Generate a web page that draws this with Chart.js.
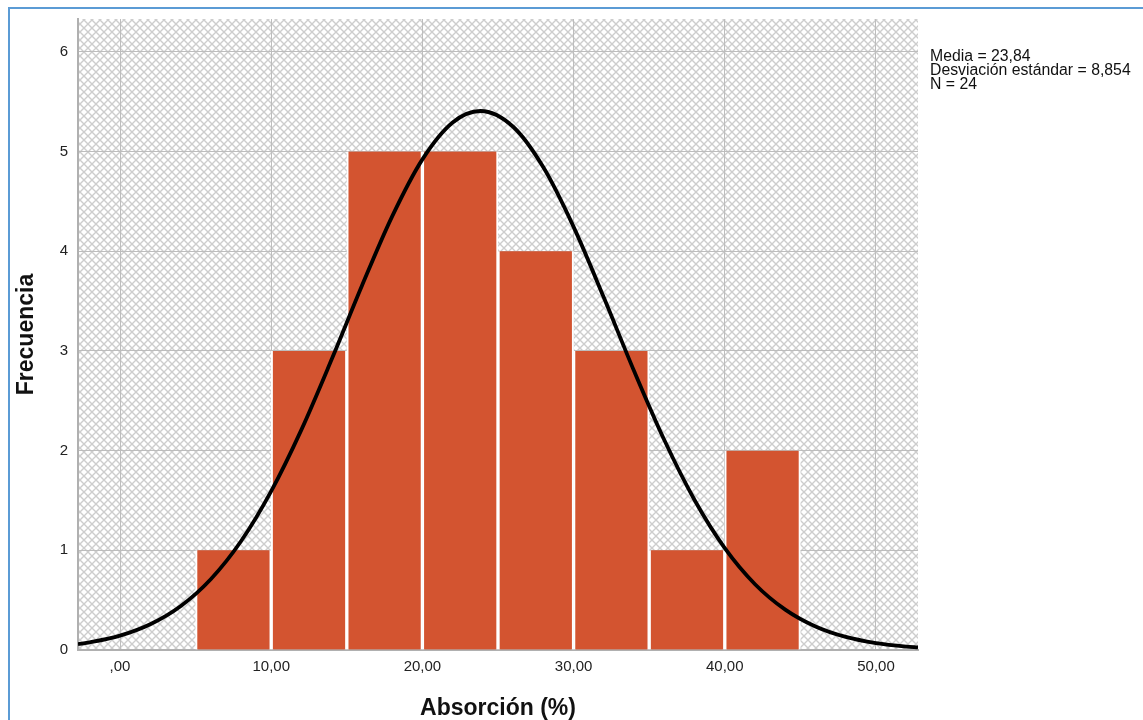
<!DOCTYPE html>
<html>
<head>
<meta charset="utf-8">
<script src="https://cdn.jsdelivr.net/npm/chart.js@4.4.1/dist/chart.umd.min.js"></script>
<style>
  html, body { margin: 0; padding: 0; background: #ffffff; overflow: hidden; }
  #frame { position: absolute; left: 8px; top: 7px; width: 1200px; height: 800px;
           border-left: 2px solid #5b9bd5; border-top: 2px solid #5b9bd5; }
  #c { position: absolute; left: 0; top: 0; }
</style>
</head>
<body>
<div id="frame"></div>
<canvas id="c" width="1143" height="720"></canvas>
<script>
// ---- data ----
const binCenters = [7.5, 12.5, 17.5, 22.5, 27.5, 32.5, 37.5, 42.5];
const frequencies = [1, 3, 5, 5, 4, 3, 1, 2];

const curveX = [-2.78, -2, 0, 2, 4, 6, 8, 10, 12, 14, 16, 18, 20, 22, 23.84, 26, 28, 30, 32, 34, 36, 38, 40, 42, 44, 46, 48, 50, 52, 52.78];
const curveY = [0.059, 0.077, 0.144, 0.258, 0.439, 0.710, 1.091, 1.594, 2.211, 2.916, 3.654, 4.350, 4.922, 5.292, 5.407, 5.249, 4.842, 4.245, 3.536, 2.799, 2.106, 1.505, 1.022, 0.660, 0.405, 0.236, 0.131, 0.069, 0.034, 0.026];

const xTickValues = [0, 10, 20, 30, 40, 50];
const xTickLabels = [',00', '10,00', '20,00', '30,00', '40,00', '50,00'];
const yTickValues = [0, 1, 2, 3, 4, 5, 6];
const yTickLabels = ['0', '1', '2', '3', '4', '5', '6'];

const xTitle = 'Absorción (%)';
const yTitle = 'Frecuencia';
const statsLines = ['Media = 23,84', 'Desviación estándar = 8,854', 'N = 24'];

// ---- rendering ----
const FONT = "'Liberation Sans', Arial, sans-serif";

function makePattern(ctx) {
  const s = 8;
  const pc = document.createElement('canvas');
  pc.width = s; pc.height = s;
  const p = pc.getContext('2d');
  p.fillStyle = '#ffffff';
  p.fillRect(0, 0, s, s);
  p.strokeStyle = '#cdcdcd';
  p.lineWidth = 1.4;
  p.beginPath();
  p.moveTo(-1, -1); p.lineTo(s + 1, s + 1);
  p.moveTo(-1, s + 1); p.lineTo(s + 1, -1);
  p.stroke();
  return ctx.createPattern(pc, 'repeat');
}

const hatchPlugin = {
  id: 'hatch',
  beforeDraw(chart) {
    const {ctx, chartArea: a} = chart;
    ctx.save();
    ctx.fillStyle = makePattern(ctx);
    ctx.fillRect(a.left, a.top, a.right - a.left, a.bottom - a.top);
    ctx.restore();
  }
};

const statsPlugin = {
  id: 'stats',
  afterDraw(chart) {
    const ctx = chart.ctx;
    ctx.save();
    ctx.fillStyle = '#111111';
    ctx.font = '15.8px ' + FONT;
    ctx.textAlign = 'left';
    ctx.textBaseline = 'middle';
    statsLines.forEach((t, i) => ctx.fillText(t, 930, 57 + i * 14));
    ctx.restore();
  }
};

new Chart(document.getElementById('c'), {
  data: {
    datasets: [
      {
        type: 'line',
        order: 0,
        data: curveX.map((x, i) => ({x: x, y: curveY[i]})),
        borderColor: '#000000',
        borderWidth: 3.8,
        pointRadius: 0,
        fill: false,
        cubicInterpolationMode: 'monotone'
      },
      {
        type: 'bar',
        order: 1,
        data: binCenters.map((x, i) => ({x: x, y: frequencies[i]})),
        backgroundColor: '#d35430',
        borderColor: '#ffffff',
        borderWidth: { left: 2, right: 2, top: 0, bottom: 0 },
        borderSkipped: false,
        barPercentage: 1.0,
        categoryPercentage: 1.0
      }
    ]
  },
  options: {
    responsive: false,
    animation: false,
    devicePixelRatio: 1,
    layout: { padding: { left: 0, top: 17, right: 225, bottom: 0 } },
    plugins: { legend: { display: false }, tooltip: { enabled: false } },
    scales: {
      x: {
        type: 'linear',
        offset: false,
        min: -2.78,
        max: 52.78,
        afterFit(s) { s.height = 70; },
        afterBuildTicks(s) { s.ticks = xTickValues.map(v => ({value: v})); },
        ticks: {
          includeBounds: false,
          autoSkip: false,
          maxRotation: 0,
          padding: 8,
          color: '#222222',
          font: { family: FONT, size: 15 },
          callback: (v) => xTickLabels[xTickValues.indexOf(v)]
        },
        grid: { color: '#bdbdbd', lineWidth: 1, drawTicks: false, offset: false },
        border: { display: true, color: '#b0b0b0', width: 2 },
        title: {
          display: true,
          text: xTitle,
          color: '#111111',
          font: { family: FONT, size: 23, weight: 'bold', lineHeight: 1 },
          padding: { top: 0, bottom: 0 }
        }
      },
      y: {
        type: 'linear',
        min: 0,
        max: 6.33,
        afterFit(s) { s.width = 78; },
        afterBuildTicks(s) { s.ticks = yTickValues.map(v => ({value: v})); },
        ticks: {
          includeBounds: false,
          autoSkip: false,
          padding: 10,
          color: '#222222',
          font: { family: FONT, size: 15 },
          callback: (v) => yTickLabels[yTickValues.indexOf(v)]
        },
        grid: { color: '#bdbdbd', lineWidth: 1, drawTicks: false },
        border: { display: true, color: '#b0b0b0', width: 2 },
        title: {
          display: true,
          text: yTitle,
          color: '#111111',
          font: { family: FONT, size: 23, weight: 'bold', lineHeight: 1 },
          padding: { top: 15, bottom: 0 }
        }
      }
    }
  },
  plugins: [hatchPlugin, statsPlugin]
});
</script>
</body>
</html>
